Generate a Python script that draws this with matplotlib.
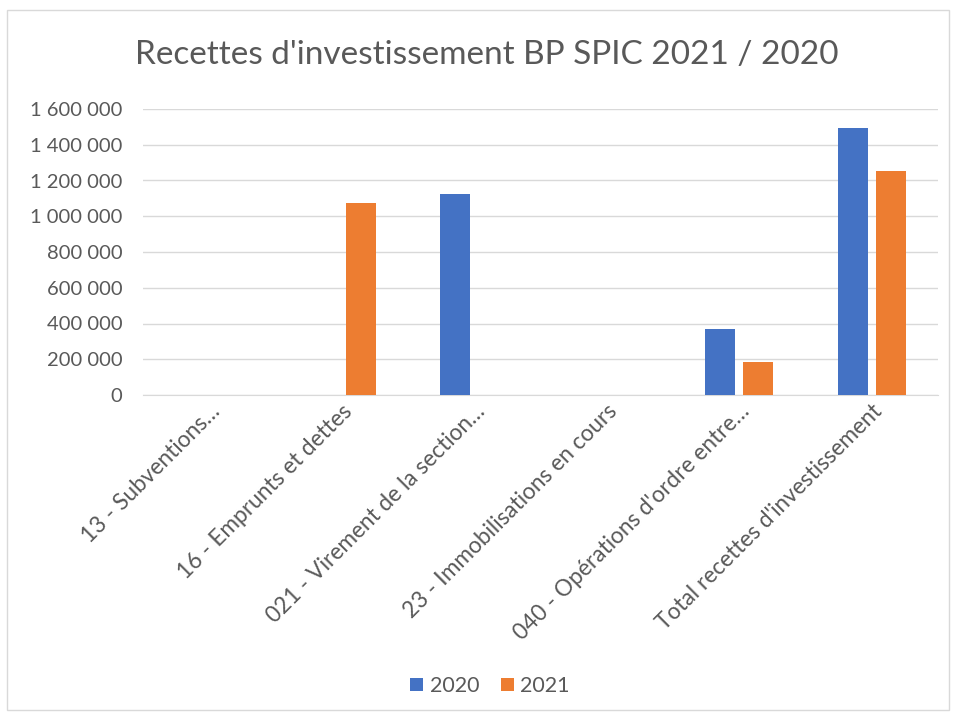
import matplotlib
matplotlib.use("Agg")
import matplotlib.pyplot as plt
import numpy as np
from matplotlib.patches import Rectangle

# ---------------------------------------------------------------------------
# Data
# ---------------------------------------------------------------------------
categories = [
    "13 - Subventions…",
    "16 - Emprunts et dettes",
    "021 - Virement de la section…",
    "23 - Immobilisations en cours",
    "040 - Opérations d'ordre entre…",
    "Total recettes d'investissement",
]
values_2020 = [0, 0, 1124000, 0, 369000, 1492000]
values_2021 = [0, 1072000, 0, 0, 183000, 1255000]
series_labels = ["2020", "2021"]
yticks = [0, 200000, 400000, 600000, 800000, 1000000, 1200000, 1400000, 1600000]

BLUE = "#4472C4"
ORANGE = "#ED7D31"
TEXT = "#595959"
GRID = "#D9D9D9"

plt.rcParams["font.family"] = ["Lato", "DejaVu Sans"]

fig = plt.figure(figsize=(9.56, 7.17), dpi=100)
# chart border
fig.patches.append(Rectangle((7 / 956, 7 / 717), 942 / 956, 700 / 717,
                             transform=fig.transFigure, fill=False,
                             edgecolor="#D9D9D9", linewidth=1))

ax = fig.add_axes([143 / 956, 1 - 395 / 717, 795 / 956, 286 / 717])

x = np.arange(len(categories))
w = 0.226
off = 0.143
ax.bar(x - off, values_2020, w, color=BLUE, label=series_labels[0], zorder=3)
ax.bar(x + off, values_2021, w, color=ORANGE, label=series_labels[1], zorder=3)

ax.set_xlim(-0.5, len(categories) - 0.5)
ax.set_ylim(0, 1600000)
ax.set_yticks(yticks)
ax.set_yticklabels([f"{v:,}".replace(",", " ") for v in yticks],
                   fontsize=14.5, color=TEXT)
ax.yaxis.grid(True, color=GRID, linewidth=1, zorder=0)
ax.tick_params(axis="y", length=0, pad=15)
ax.tick_params(axis="x", length=0, pad=4)
ax.set_xticks(x)
ax.set_xticklabels(categories, rotation=45, ha="right", rotation_mode="anchor",
                   fontsize=16.3, color=TEXT)

for s in ["top", "right", "left"]:
    ax.spines[s].set_visible(False)
ax.spines["bottom"].set_color(GRID)

fig.text(487 / 956, 1 - 55 / 717, "Recettes d'investissement BP SPIC 2021 / 2020",
         ha="center", va="center", fontsize=24, color=TEXT)

fig.legend(loc="center", bbox_to_anchor=(490 / 956, 1 - 686 / 717), ncol=2,
           frameon=False, fontsize=15.5, labelcolor=TEXT, handlelength=0.6,
           handleheight=0.6, columnspacing=1.0, handletextpad=0.3)

fig.savefig("out.png", dpi=100)
